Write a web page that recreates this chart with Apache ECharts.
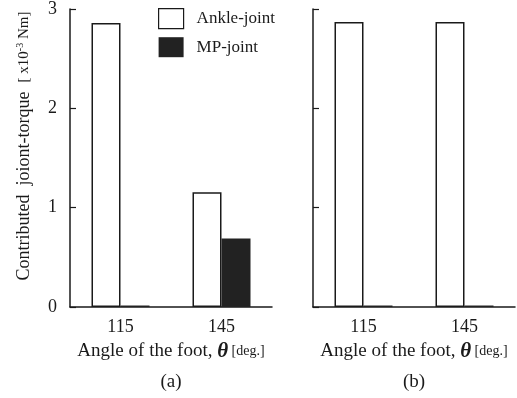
<!DOCTYPE html>
<html><head><meta charset="utf-8">
<script src="https://cdn.jsdelivr.net/npm/echarts@6/dist/echarts.min.js"></script>
<style>html,body{margin:0;padding:0;background:#fff}#c{width:517px;height:398px}</style>
</head><body><div id="c"></div>
<script>
const categories = ['115', '145'];
const ankleA = [2.86, 1.155];
const mpA = [0.015, 0.69];
const ankleB = [2.87, 2.87];
const mpB = [0.015, 0.015];
const yTicks = [0, 1, 2, 3];

const FONT = '"Liberation Serif", "Times New Roman", serif';
const INK = '#1a1a1a';
const chart = echarts.init(document.getElementById('c'), null, {renderer: 'canvas'});

function xName(tag) {
  return '{a|Angle of the foot, }{t|θ}{b| [deg.]}\n{c|' + tag + '}';
}
const xRich = {
  a: {fontFamily: FONT, fontSize: 19, color: INK, lineHeight: 28},
  t: {fontFamily: FONT, fontSize: 21, fontStyle: 'italic', fontWeight: 'bold', color: INK, lineHeight: 28},
  b: {fontFamily: FONT, fontSize: 14, color: INK, lineHeight: 28},
  c: {fontFamily: FONT, fontSize: 19, color: INK, lineHeight: 33}
};

function xAxis(gi, tag) {
  return {
    type: 'category', gridIndex: gi, data: categories,
    axisLine: {lineStyle: {color: INK, width: 1.5}},
    axisTick: {inside: true, length: 7, lineStyle: {color: INK, width: 1.2}},
    axisLabel: {fontFamily: FONT, fontSize: 18, color: INK, margin: 11},
    name: xName(tag), nameLocation: 'middle', nameGap: 30,
    nameTextStyle: {rich: xRich}
  };
}
function yAxis(gi, showLabel) {
  return {
    type: 'value', gridIndex: gi, min: 0, max: 3, interval: 1,
    axisLine: {show: true, lineStyle: {color: INK, width: 1.5}},
    axisTick: {show: true, inside: true, length: 6, lineStyle: {color: INK, width: 1.2}},
    axisLabel: {show: showLabel, fontFamily: FONT, fontSize: 18, color: INK, margin: 13,
      formatter: v => yTicks.includes(v) ? String(v) : ''},
    splitLine: {show: false},
    name: showLabel ? '{a|Contributed  joiont-torque  }{b|[ x10}{s|-3}{b| Nm]}' : '',
    nameLocation: 'middle', nameGap: 37, nameRotate: 90,
    nameTextStyle: {padding: [0, 0, 0, 24], rich: {
      a: {fontFamily: FONT, fontSize: 18, color: INK},
      b: {fontFamily: FONT, fontSize: 15, color: INK},
      s: {fontFamily: FONT, fontSize: 10, color: INK, verticalAlign: 'top', padding: [0, 0, 8, 0]}
    }}
  };
}
const whiteStyle = {color: '#fff', borderColor: INK, borderWidth: 1.5};
const blackStyle = {color: '#222', borderColor: '#222', borderWidth: 0};

chart.setOption({
  animation: false,
  backgroundColor: '#fff',
  grid: [
    {left: 70, right: 245, top: 9, bottom: 91, outerBoundsMode: 'none'},
    {left: 313, right: 2, top: 9, bottom: 91, outerBoundsMode: 'none'}
  ],
  legend: {
    orient: 'vertical', left: 153, top: 3, itemWidth: 25, itemHeight: 20, itemGap: 8,
    icon: 'rect',
    textStyle: {fontFamily: FONT, fontSize: 17, color: INK, padding: [0, 0, 0, 8]},
    data: [
      {name: 'Ankle-joint', itemStyle: {color: '#fff', borderColor: INK, borderWidth: 1.2}},
      {name: 'MP-joint', itemStyle: {color: '#222', borderColor: '#222', borderWidth: 0}}
    ]
  },
  xAxis: [xAxis(0, '(a)'), xAxis(1, '(b)')],
  yAxis: [yAxis(0, true), yAxis(1, false)],
  series: [
    {name: 'Ankle-joint', type: 'bar', xAxisIndex: 0, yAxisIndex: 0, data: ankleA, barWidth: 29, barGap: '0%', itemStyle: whiteStyle},
    {name: 'MP-joint', type: 'bar', xAxisIndex: 0, yAxisIndex: 0, data: mpA, barWidth: 29, barGap: '0%', itemStyle: blackStyle},
    {name: 'Ankle-joint', type: 'bar', xAxisIndex: 1, yAxisIndex: 1, data: ankleB, barWidth: 29, barGap: '0%', itemStyle: whiteStyle},
    {name: 'MP-joint', type: 'bar', xAxisIndex: 1, yAxisIndex: 1, data: mpB, barWidth: 29, barGap: '0%', itemStyle: blackStyle}
  ]
});
</script></body></html>
